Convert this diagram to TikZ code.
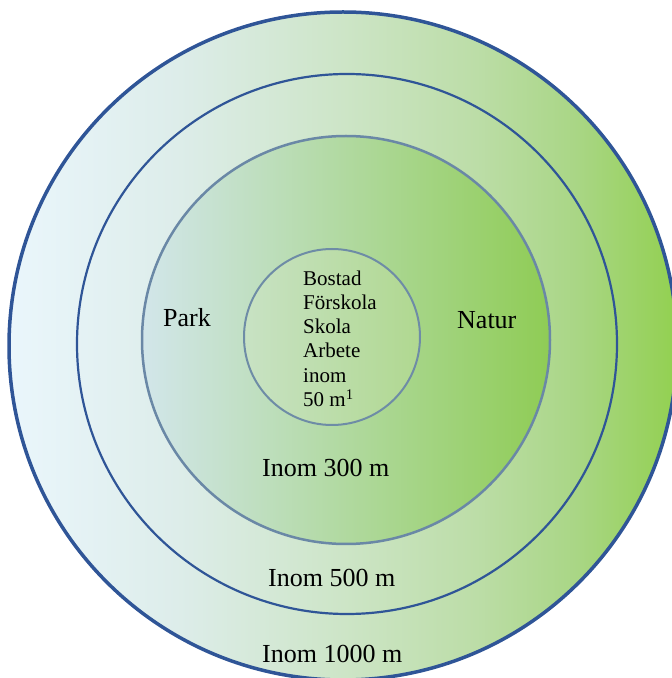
\documentclass[tikz,border=0pt]{standalone}
\usepackage{fontspec}
\setmainfont{Liberation Serif}
\definecolor{ringblue}{HTML}{2F5597}
\definecolor{greyblue}{HTML}{6A88A6}
\definecolor{innerline}{HTML}{6E8CA6}
\definecolor{tL}{HTML}{D2E6EA}
\definecolor{tM}{HTML}{BEDCB0}
\definecolor{tR}{HTML}{8FCC55}
\definecolor{iL}{HTML}{C8E2C4}
\definecolor{iM}{HTML}{C2DFAE}
\definecolor{iR}{HTML}{B0D890}
\pgfdeclarehorizontalshading{outershade}{100bp}{%
  rgb(0bp)=(0.918,0.965,0.988);
  rgb(25bp)=(0.918,0.965,0.988);
  rgb(37.5bp)=(0.867,0.929,0.918);
  rgb(50bp)=(0.804,0.898,0.780);
  rgb(60bp)=(0.737,0.867,0.655);
  rgb(67.5bp)=(0.663,0.839,0.522);
  rgb(75bp)=(0.573,0.816,0.314);
  rgb(100bp)=(0.573,0.816,0.314)}
\tikzset{
  ring/.style={circle, inner sep=0pt, outer sep=0pt},
  lbl/.style={anchor=base west, inner sep=0pt, font=\fontsize{26}{30}\selectfont},
  inlbl/.style={anchor=base west, inner sep=0pt, font=\fontsize{21}{24}\selectfont}
}
\begin{document}
\begin{tikzpicture}[x=1pt,y=1pt]
\useasboundingbox (0,0) rectangle (672,678);
\clip (0,0) rectangle (672,678);
\node[ring, minimum size=668pt, shading=outershade, draw=ringblue, line width=3.5pt] (outer) at (343,332) {};
\node[ring, minimum size=540pt, draw=ringblue, line width=2.2pt] (r500) at (347,334) {};
\node[ring, minimum size=408pt, left color=tL, middle color=tM, right color=tR, draw=greyblue, line width=2.5pt] (r300) at (346,338) {};
\node[ring, minimum size=176pt, left color=iL, middle color=iM, right color=iR, draw=innerline, line width=2pt] (r50) at (332,341) {};
\node[lbl] (park) at (163,351) {Park};
\node[lbl] (natur) at (457,349) {Natur};
\node[lbl] (t300) at (262,201) {Inom 300 m};
\node[lbl] (t500) at (268,91) {Inom 500 m};
\node[lbl] (t1000) at (262,16) {Inom 1000 m};
\node[inlbl] (l1) at (303,392) {Bostad};
\node[inlbl] (l2) at (303,368) {Förskola};
\node[inlbl] (l3) at (303,344) {Skola};
\node[inlbl] (l4) at (303,320) {Arbete};
\node[inlbl] (l5) at (303,295) {inom};
\node[inlbl] (l6) at (303,271) {50 m\textsuperscript{1}};
\end{tikzpicture}
\end{document}
